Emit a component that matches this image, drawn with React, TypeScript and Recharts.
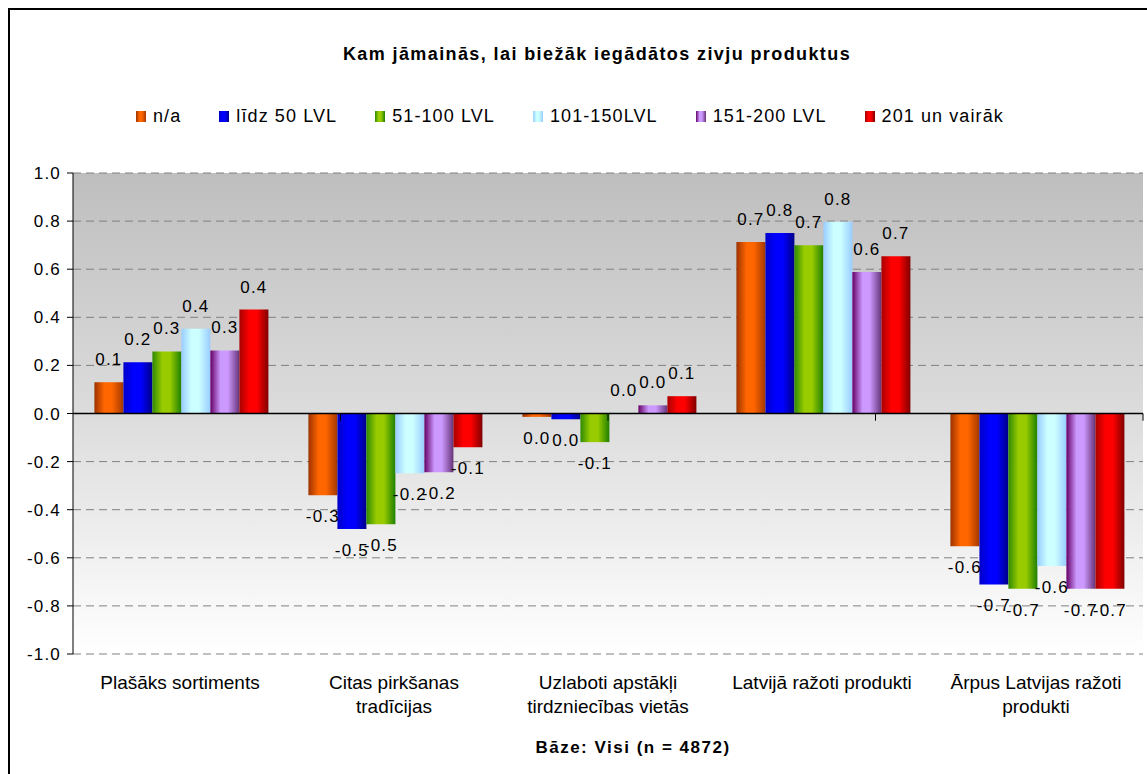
import React from "react";
import {
  BarChart,
  Bar,
  XAxis,
  YAxis,
  CartesianGrid,
  ReferenceLine,
  ReferenceArea,
  Legend,
  LabelList,
  Text,
} from "recharts";

const FONT = '"Liberation Sans", Arial, sans-serif';

const categories = [
  "Plašāks sortiments",
  "Citas pirkšanas tradīcijas",
  "Uzlaboti apstākļi tirdzniecības vietās",
  "Latvijā ražoti produkti",
  "Ārpus Latvijas ražoti produkti",
];

const seriesNames = [
  "n/a",
  "līdz 50 LVL",
  "51-100 LVL",
  "101-150LVL",
  "151-200 LVL",
  "201 un vairāk",
];

const naValues = [0.13, -0.34, -0.014, 0.713, -0.552];
const upTo50Values = [0.213, -0.48, -0.024, 0.751, -0.711];
const from51Values = [0.258, -0.46, -0.119, 0.7, -0.729];
const from101Values = [0.352, -0.248, 0.003, 0.797, -0.634];
const from151Values = [0.262, -0.244, 0.034, 0.588, -0.729];
const from201Values = [0.432, -0.14, 0.072, 0.654, -0.729];

const yTicks = [-1, -0.8, -0.6, -0.4, -0.2, 0, 0.2, 0.4, 0.6, 0.8, 1];

const seriesValues = [naValues, upTo50Values, from51Values, from101Values, from151Values, from201Values];

// cylinder-like shading, left edge -> highlight -> right edge
const shadeOffsets = [0, 0.35, 0.6, 1];
const barShades = [
  ["#9c3300", "#ff6600", "#ff6600", "#a33800"],
  ["#0000c8", "#0000ff", "#0000ff", "#000088"],
  ["#2f8a00", "#99cc00", "#99cc00", "#1f8000"],
  ["#99ccff", "#ccffff", "#ccffff", "#99ccff"],
  ["#660066", "#cc99ff", "#cc99ff", "#663377"],
  ["#a80000", "#ff0000", "#ff0000", "#800000"],
];

const data = categories.map((name, i) => {
  const row: Record<string, string | number> = { name };
  seriesValues.forEach((vals, k) => {
    row["s" + k] = vals[i];
  });
  return row;
});

const fmt = (v: number) => {
  const r = Math.round(v * 10) / 10;
  return (r === 0 ? 0 : r).toFixed(1);
};

const ValueLabel = (props: any) => {
  const { x, y, width, height, value } = props;
  const top = Math.min(y, y + height);
  const bottom = Math.max(y, y + height);
  const ty = value >= 0 ? top - 17 : bottom + 27;
  return (
    <text
      x={x + width / 2}
      y={ty}
      textAnchor="middle"
      fontSize={17}
      fontFamily={FONT}
      letterSpacing={1.2}
      fill="#000"
    >
      {fmt(value)}
    </text>
  );
};

const CategoryTick = (props: any) => {
  const { x, y, payload } = props;
  return (
    <Text
      x={x}
      y={y + 22}
      width={165}
      textAnchor="middle"
      verticalAnchor="start"
      lineHeight={24}
      fontSize={19}
      fontFamily={FONT}
      style={{ fontSize: 19, fontFamily: FONT }}
      fill="#000"
    >
      {payload.value}
    </Text>
  );
};

const LegendRow = () => (
  <div style={{ fontFamily: FONT, fontSize: 18, letterSpacing: 1.1, lineHeight: "20px", whiteSpace: "nowrap", color: "#000" }}>
    {seriesNames.map((name, k) => (
      <span key={name} style={{ marginRight: 38 }}>
        <span
          style={{
            display: "inline-block",
            width: 10,
            height: 11,
            marginRight: 7,
            background: `linear-gradient(to right, ${barShades[k]
              .map((c, j) => `${c} ${shadeOffsets[j] * 100}%`)
              .join(", ")})`,
          }}
        />
        {name}
      </span>
    ))}
  </div>
);

export default function App() {
  return (
    <div style={{ position: "absolute", left: 0, top: 0, width: 1147, height: 774, overflow: "hidden", background: "#fff" }}>
      <div style={{ position: "absolute", left: 8, top: 8, width: 1200, height: 800, border: "2px solid #000" }} />
      <div
        style={{
          position: "absolute",
          left: 0,
          top: 44,
          width: 1194,
          textAlign: "center",
          fontFamily: FONT,
          fontWeight: "bold",
          fontSize: 18,
          letterSpacing: 1.4,
          lineHeight: "20px",
        }}
      >
        Kam jāmainās, lai biežāk iegādātos zivju produktus
      </div>
      <div style={{ position: "absolute", left: 0, top: 0 }}>
        <BarChart
          width={1147}
          height={774}
          data={data}
          margin={{ top: 173, right: 4, bottom: 60, left: 13 }}
          barCategoryGap="10%"
          barGap={0}
        >
          <defs>
            <linearGradient id="plotBg" x1="0" y1="0" x2="0" y2="1">
              <stop offset="0" stopColor="#bebebe" />
              <stop offset="0.5" stopColor="#dcdcdc" />
              <stop offset="1" stopColor="#ffffff" />
            </linearGradient>
            {barShades.map((shade, k) => (
              <linearGradient key={k} id={"bar" + k} x1="0" y1="0" x2="1" y2="0">
                {shade.map((c, j) => (
                  <stop key={j} offset={shadeOffsets[j]} stopColor={c} />
                ))}
              </linearGradient>
            ))}
          </defs>
          <CartesianGrid vertical={false} stroke="#808080" strokeDasharray="8 5" fill="url(#plotBg)" />
          <XAxis
            dataKey="name"
            height={60}
            axisLine={false}
            tickLine={false}
            tickSize={0}
            tickMargin={0}
            interval={0}
            tick={<CategoryTick />}
          />
          <XAxis xAxisId="pos" type="number" domain={[0, categories.length]} hide />
          <YAxis
            width={60}
            domain={[-1, 1]}
            ticks={yTicks}
            interval={0}
            tickFormatter={(v: number) => fmt(v)}
            axisLine={{ stroke: "#000" }}
            tickLine={{ stroke: "#000" }}
            tickSize={6}
            tickMargin={6}
            tick={{ fontSize: 17, fill: "#000", fontFamily: FONT, letterSpacing: 1.2 }}
          />
          <Legend
            layout="horizontal"
            verticalAlign="middle"
            align="center"
            wrapperStyle={{ top: 106, left: 136, width: 1000 }}
            content={<LegendRow />}
          />
          <ReferenceArea
            xAxisId="pos"
            x1={0}
            x2={categories.length}
            y1={-1}
            y2={1}
            fill="none"
            stroke="#808080"
            strokeWidth={1.5}
          />
          {seriesNames.map((name, k) => (
            <Bar key={name} dataKey={"s" + k} name={name} fill={`url(#bar${k})`} isAnimationActive={false}>
              <LabelList dataKey={"s" + k} content={<ValueLabel />} />
            </Bar>
          ))}
          <ReferenceLine y={0} stroke="#000" strokeWidth={1.5} />
          {categories.slice(1).map((c, i) => (
            <ReferenceLine
              key={c}
              xAxisId="pos"
              stroke="#000"
              segment={[
                { x: i + 1, y: 0 },
                { x: i + 1, y: -0.03 },
              ]}
            />
          ))}
        </BarChart>
      </div>
      <div
        style={{
          position: "absolute",
          left: 0,
          top: 738,
          width: 1266,
          textAlign: "center",
          fontFamily: FONT,
          fontWeight: "bold",
          fontSize: 17,
          letterSpacing: 1.5,
          lineHeight: "20px",
        }}
      >
        Bāze: Visi (n = 4872)
      </div>
    </div>
  );
}
